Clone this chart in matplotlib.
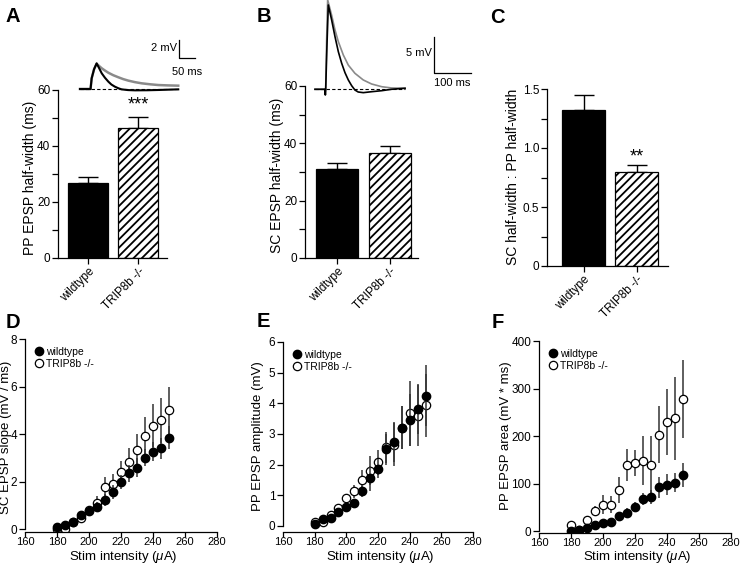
import numpy as np
import matplotlib
matplotlib.use('Agg')
from matplotlib import pyplot as plt
from matplotlib.lines import Line2D

plt.rcParams['font.family'] = ['Liberation Sans', 'DejaVu Sans']
plt.rcParams['mathtext.fontset'] = 'custom'
plt.rcParams['mathtext.rm'] = 'Liberation Sans'
plt.rcParams['mathtext.it'] = 'Liberation Sans:italic'
plt.rcParams['hatch.linewidth'] = 1.3
plt.rcParams['axes.linewidth'] = 0.9

# ---- bar data ----
groups = ['wildtype', 'TRIP8b -/-']
pp_hw_mean = [26.8, 46.5]
pp_hw_sem = [2.2, 3.7]
sc_hw_mean = [31.2, 36.7]
sc_hw_sem = [1.8, 2.5]
ratio_mean = [1.32, 0.80]
ratio_sem = [0.13, 0.06]

# ---- input/output data ----
stim = [180, 185, 190, 195, 200, 205, 210, 215, 220, 225, 230, 235, 240, 245, 250]
slope_wt = [0.10, 0.18, 0.30, 0.60, 0.75, 0.92, 1.22, 1.55, 1.98, 2.35, 2.57, 3.00, 3.25, 3.40, 3.85]
slope_wt_sem = [0.05, 0.05, 0.08, 0.12, 0.12, 0.20, 0.25, 0.30, 0.30, 0.35, 0.40, 0.35, 0.40, 0.45, 0.50]
slope_ko = [0.00, 0.02, 0.28, 0.48, 0.78, 1.08, 1.77, 1.90, 2.38, 2.82, 3.33, 3.93, 4.35, 4.57, 5.00]
slope_ko_sem = [0.05, 0.05, 0.08, 0.12, 0.15, 0.30, 0.40, 0.40, 0.50, 0.60, 0.67, 0.80, 0.90, 0.93, 1.00]

amp_wt = [0.06, 0.22, 0.25, 0.47, 0.62, 0.75, 1.13, 1.55, 1.87, 2.50, 2.73, 3.20, 3.47, 3.82, 4.25]
amp_wt_sem = [0.03, 0.05, 0.05, 0.08, 0.10, 0.12, 0.18, 0.40, 0.30, 0.50, 0.65, 0.70, 0.85, 0.82, 1.00]
amp_ko = [0.13, 0.12, 0.37, 0.60, 0.90, 1.13, 1.50, 1.80, 2.08, 2.57, 2.65, 3.20, 3.67, 3.60, 3.93]
amp_ko_sem = [0.05, 0.05, 0.06, 0.08, 0.12, 0.22, 0.34, 0.47, 0.41, 0.50, 0.70, 0.70, 1.05, 1.00, 1.03]

area_wt = [0, 2, 6, 12, 17, 20, 32, 38, 51, 67, 72, 92, 97, 102, 118]
area_wt_sem = [2, 2, 4, 5, 6, 7, 9, 10, 10, 12, 15, 22, 22, 20, 26]
area_ko = [12, 2, 23, 43, 55, 55, 86, 139, 143, 148, 140, 203, 229, 237, 278]
area_ko_sem = [5, 3, 8, 10, 20, 18, 28, 33, 27, 52, 60, 60, 70, 88, 82]

# ---- example traces (ms, mV) ----
trA_t_blk = [0, 33, 36.5, 44, 52, 60, 68, 78, 88.5, 98, 109, 120, 130, 150, 172, 210, 245, 280, 307]
trA_v_blk = [0, 0, 1.19, 2.2, 2.85, 2.3, 1.74, 1.25, 0.82, 0.5, 0.26, 0.08, -0.04, -0.12, -0.15, -0.14, -0.11, -0.07, -0.04]
trA_t_gry = [0, 33, 36.5, 44, 52, 60, 68, 78, 88.5, 104, 120, 135, 151, 172, 193, 220, 245, 275, 307]
trA_v_gry = [0, 0, 1.19, 2.2, 2.8, 2.55, 2.3, 2.05, 1.81, 1.53, 1.30, 1.10, 0.93, 0.76, 0.63, 0.52, 0.44, 0.40, 0.37]

trB_t_blk = [0, 27.5, 28.5, 29.5, 33, 36.7, 45.9, 55.1, 64.3, 73.5, 82.6, 91.8, 101, 110, 119, 133, 156, 184, 211, 248]
trB_v_blk = [0, 0, -0.77, 0, 6.0, 11.5, 9.45, 7.18, 5.13, 3.55, 2.27, 1.27, 0.49, -0.1, -0.37, -0.46, -0.33, -0.19, 0, 0.14]
trB_t_gry = [0, 27.5, 28.5, 29.5, 32, 34.9, 45.9, 55.1, 64.3, 78, 91.8, 110, 133, 156, 184, 211, 248]
trB_v_gry = [0, 0, -0.77, 0, 6.5, 12.2, 10.1, 8.1, 6.5, 4.68, 3.3, 2.18, 1.27, 0.72, 0.35, 0.18, 0.14]

W, H = 740, 564
fig = plt.figure(figsize=(W / 100, H / 100), dpi=100)


def box(l, t, r, b):
    return fig.add_axes([l / W, 1 - b / H, (r - l) / W, (b - t) / H])


def style(ax):
    for s in ['top', 'right']:
        ax.spines[s].set_visible(False)
    ax.tick_params(direction='out', length=4, width=0.9, labelsize=8.5, pad=1.5)
    ax.tick_params(which='minor', direction='out', length=4, width=0.9)


def ylab(ax, text, xpix, ypix, size=10):
    ax.set_ylabel(text, fontsize=size)
    ax.yaxis.set_label_coords(xpix / W, 1 - ypix / H, transform=fig.transFigure)
    ax.yaxis.label.set_va('center')


def bars(ax, mean, sem, ylim, major, minor, xlim, width=0.8):
    x = np.arange(len(mean))
    ax.bar(x[0], mean[0], width, color='black', edgecolor='black', linewidth=0.9, zorder=2)
    ax.bar(x[1], mean[1], width, color='white', edgecolor='black', hatch='////', linewidth=0.9, zorder=2)
    ax.errorbar(x, mean, yerr=[np.zeros(len(sem)), sem], fmt='none', ecolor='black',
                elinewidth=1.0, capsize=7.5, capthick=1.0, zorder=1)
    ax.set_xlim(*xlim)
    ax.set_ylim(*ylim)
    ax.set_yticks(major)
    ax.set_yticks(minor, minor=True)
    ax.set_xticks(x)
    ax.set_xticklabels(groups, rotation=45, ha='right', rotation_mode='anchor', fontsize=8.5)
    style(ax)


def scatter(ax, y_wt, e_wt, y_ko, e_ko, ylim, yticks):
    ax.errorbar(stim, y_ko, yerr=e_ko, fmt='o', ms=6, mfc='white', mec='black', mew=0.9,
                ecolor='#333333', elinewidth=1.1, capsize=0, zorder=2)
    ax.errorbar(stim, y_wt, yerr=e_wt, fmt='o', ms=6, mfc='black', mec='black',
                ecolor='#333333', elinewidth=1.1, capsize=0, zorder=3)
    ax.set_xlim(160, 280)
    ax.set_ylim(*ylim)
    ax.set_xticks(range(160, 281, 20))
    ax.set_yticks(yticks)
    ax.spines['left'].set_bounds(yticks[0], yticks[-1])
    style(ax)
    ax.tick_params(axis='x', pad=0.3, length=3.5, labelsize=8)
    pos = ax.get_position()
    ax.set_xlabel(r'Stim intensity ($\mu$A)', fontsize=9.5)
    ax.xaxis.set_label_coords(pos.x0 + pos.width / 2 + 2 / W, 1 - 557 / H, transform=fig.transFigure)
    ax.xaxis.label.set_va('center')
    handles = [Line2D([], [], ls='none', marker='o', ms=6, mfc='black', mec='black'),
               Line2D([], [], ls='none', marker='o', ms=6, mfc='white', mec='black', mew=0.9)]
    ax.legend(handles, groups, loc='upper left', frameon=False, fontsize=7.5,
              handletextpad=0.2, borderaxespad=0.0, labelspacing=0.15, handlelength=1.0,
              bbox_to_anchor=(0.025, 0.98))


# A
axA = box(58, 90, 167, 258)
bars(axA, pp_hw_mean, pp_hw_sem, (0, 60), [0, 20, 40, 60], [10, 30, 50], (-0.6, 1.57))
ylab(axA, 'PP EPSP half-width (ms)', 30.5, 178)
axA.text(1, pp_hw_mean[1] + pp_hw_sem[1] + 1.5, '***', ha='center', va='bottom', fontsize=13)

# B
axB = box(305, 86, 418, 258)
bars(axB, sc_hw_mean, sc_hw_sem, (0, 60), [0, 20, 40, 60], [10, 30, 50], (-0.61, 1.54))
ylab(axB, 'SC EPSP half-width (ms)', 277, 175)

# C
axC = box(547, 89, 668, 266)
bars(axC, ratio_mean, ratio_sem, (0, 1.5), [0, 0.5, 1.0, 1.5], [0.25, 0.75, 1.25], (-0.69, 1.59),
     width=0.81)
axC.set_yticklabels(['0', '0.5', '1.0', '1.5'])
ylab(axC, 'SC half-width : PP half-width', 513, 177)
axC.text(1, ratio_mean[1] + ratio_sem[1] - 0.01, '**', ha='center', va='bottom', fontsize=13)

# trace A
tA = box(75, 35, 200, 95)
tA.axis('off')
tA.set_xlim(-15.6, 375)
tA.set_ylim(-0.667, 6.0)
tA.plot(trA_t_gry, trA_v_gry, color='#8a8a8a', lw=1.8)
tA.plot(trA_t_blk, trA_v_blk, color='black', lw=1.5)
tA.plot([0, 307], [0, 0], color='black', lw=0.8, ls=(0, (3, 2)))
tA.plot([309, 309, 359], [5.41, 3.41, 3.41], color='black', lw=0.9)
tA.text(303, 4.5, '2 mV', ha='right', va='center', fontsize=8)
tA.text(334, 2.4, '50 ms', ha='center', va='top', fontsize=8)

# trace B
tB = box(305, 0, 480, 95)
tB.axis('off')
tB.set_xlim(-27.5, 454.5)
tB.set_ylim(-0.78, 12.18)
tB.plot(trB_t_gry, trB_v_gry, color='#8a8a8a', lw=1.2, clip_on=False)
tB.plot(trB_t_blk, trB_v_blk, color='black', lw=1.2, clip_on=False)
tB.plot([0, 248], [0, 0], color='black', lw=0.8, ls=(0, (3, 2)))
tB.plot([328.6, 328.6, 428.6], [7.18, 2.18, 2.18], color='black', lw=0.9)
tB.text(323, 4.95, '5 mV', ha='right', va='center', fontsize=8)
tB.text(379, 1.5, '100 ms', ha='center', va='top', fontsize=8)

# D, E, F
axD = box(25, 339, 217, 532)
scatter(axD, slope_wt, slope_wt_sem, slope_ko, slope_ko_sem, (-0.126, 8), [0, 2, 4, 6, 8])
ylab(axD, 'SC EPSP slope (mV / ms)', 6, 437, 9.5)
axE = box(283, 342, 473, 532)
scatter(axE, amp_wt, amp_wt_sem, amp_ko, amp_ko_sem, (-0.196, 6), [0, 1, 2, 3, 4, 5, 6])
ylab(axE, 'PP EPSP amplitude (mV)', 258, 436, 9.5)
axF = box(539, 341, 731, 533)
scatter(axF, area_wt, area_wt_sem, area_ko, area_ko_sem, (-4.2, 400), [0, 100, 200, 300, 400])
ylab(axF, 'PP EPSP area (mV * ms)', 505.5, 436, 9.5)

# panel letters
for s, x, y in [('A', 6, 22), ('B', 257, 22), ('C', 490, 23), ('D', 6, 328), ('E', 257, 327), ('F', 492, 328)]:
    fig.text(x / W, 1 - y / H, s, fontsize=14.5, fontweight='bold', ha='left', va='baseline')

fig.savefig('out.png', dpi=100)
